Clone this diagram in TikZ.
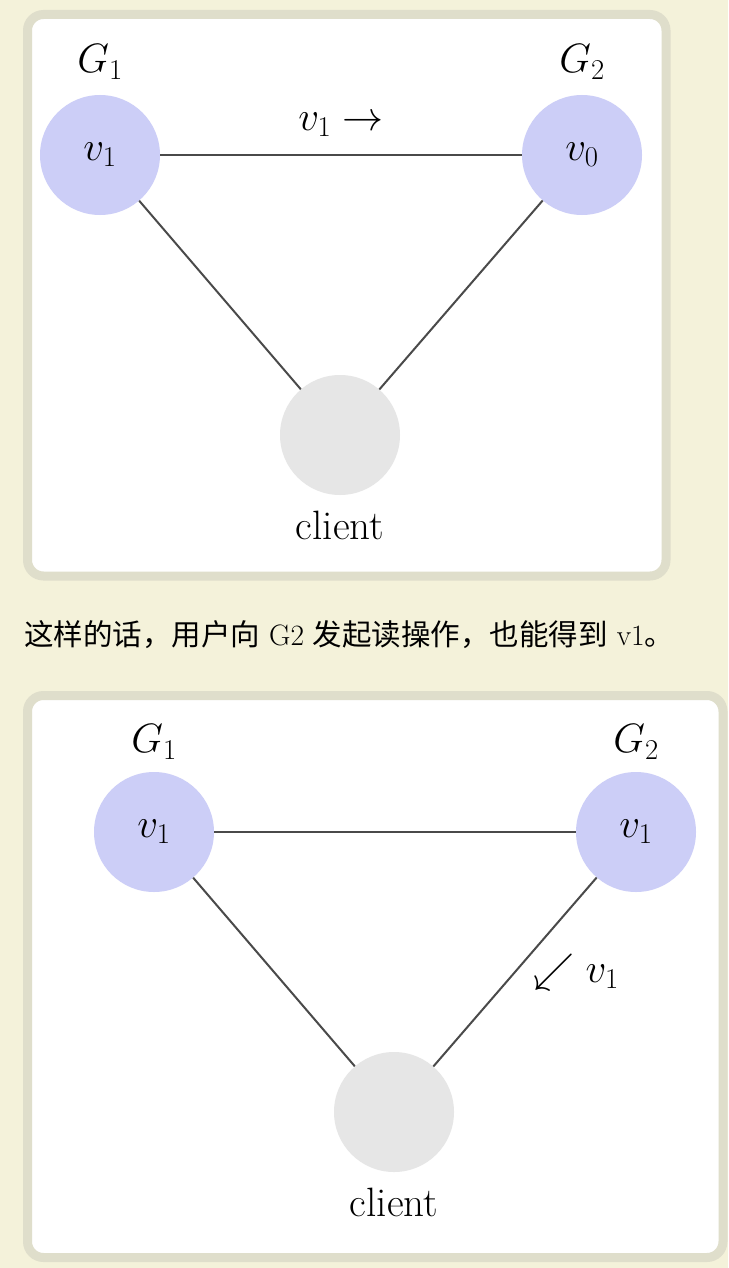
\RequirePackage{fix-cm}
\documentclass[tikz,border=0pt]{standalone}
\usepackage{fontspec}
\newfontfamily\cjk{Noto Sans CJK SC}
\definecolor{pagebg}{HTML}{F4F2DA}
\definecolor{frame}{HTML}{DFDECB}
\definecolor{srv}{HTML}{CCCEF7}
\definecolor{cli}{HTML}{E6E6E6}
\definecolor{edgec}{HTML}{4A4A4A}
\tikzset{
  panel/.style={draw=frame, line width=9pt, fill=white, rounded corners=16pt},
  srvnode/.style={circle, fill=srv, minimum size=120pt, inner sep=0pt, font=\fontsize{41}{49}\selectfont},
  clinode/.style={circle, fill=cli, minimum size=120pt, inner sep=0pt},
  txt/.style={inner sep=0pt, font=\fontsize{41}{49}\selectfont},
  link/.style={draw=edgec, line width=2pt},
}
\begin{document}
\begin{tikzpicture}[x=1pt, y=-1pt]
\fill[pagebg] (0,0) rectangle (728,1268);
\useasboundingbox (0,0) rectangle (728,1268);

% panel 1
\draw[panel] (27.5,14.5) rectangle (666,576);
\node[txt] (g1a) at (100,62) {$G_1$};
\node[txt] (g2a) at (582,62) {$G_2$};
\node[srvnode] (a1) at (100,155) {$v_1$};
\node[srvnode] (a2) at (582,155) {$v_0$};
\node[clinode] (ac) at (340,435) {};
\node[txt] (acl) at (340,525) {client};
\draw[link] (a1) -- node[txt, midway, yshift=30pt] (la) {$v_1\rightarrow$} (a2);
\draw[link] (a1) -- (ac);
\draw[link] (a2) -- (ac);

% sentence
\node[anchor=base west, inner sep=0pt, font=\fontsize{29.5}{34}\selectfont] (sent) at (24,645)
  {{\cjk 这样的话，用户向} G2 {\cjk 发起读操作，也能得到} v1{\cjk 。}};

% panel 2
\draw[panel] (27.5,695.5) rectangle (723,1257.5);
\node[txt] (g1b) at (154,742) {$G_1$};
\node[txt] (g2b) at (636,742) {$G_2$};
\node[srvnode] (b1) at (154,832) {$v_1$};
\node[srvnode] (b2) at (636,832) {$v_1$};
\node[clinode] (bc) at (394,1112) {};
\node[txt] (bcl) at (394,1202) {client};
\draw[link] (b1) -- (b2);
\draw[link] (b1) -- (bc);
\draw[link] (b2) -- node[txt, midway, xshift=61pt] (lb) {${\swarrow}\;v_1$} (bc);
\end{tikzpicture}
\end{document}
